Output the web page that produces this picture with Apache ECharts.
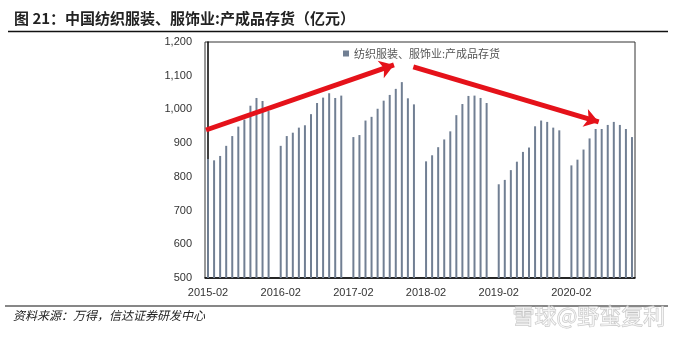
<!DOCTYPE html>
<html>
<head>
<meta charset="utf-8">
<script src="https://cdn.jsdelivr.net/npm/echarts@6/dist/echarts.min.js"></script>
<style>
html,body{margin:0;padding:0;background:#fff;}
#c{width:676px;height:342px;}
</style>
</head>
<body>
<div id="c"></div>
<script>
// Data (亿元), monthly from 2015-02 to 2020-12; January not reported (null)
var startYear = 2015, startMonth = 2, monthCount = 71;
var values2015 = [853, 849, 862, 892, 921, 949, 970, 1011, 1034, 1025, 995];
var values2016 = [null, 892, 921, 931, 946, 953, 986, 1019, 1035, 1048, 1034, 1041];
var values2017 = [null, 918, 924, 967, 978, 1002, 1026, 1043, 1061, 1081, 1033, 1015];
var values2018 = [null, 846, 864, 888, 911, 935, 983, 1016, 1040, 1041, 1034, 1019];
var values2019 = [null, 778, 791, 820, 845, 874, 887, 950, 967, 963, 946, 938];
var values2020 = [null, 834, 851, 881, 914, 942, 942, 954, 963, 954, 942, 918];
var seriesName = '纺织服装、服饰业:产成品存货';
var yTicks = [500, 600, 700, 800, 900, 1000, 1100, 1200];
// Trend arrows (annotation), in [category position, value]
var arrowUp = [[-0.33, 939], [30.7, 1132]];
var arrowDown = [[33.9, 1126], [64.5, 963]];

var categories = [];
for (var i = 0; i < monthCount; i++) {
  var m = startMonth - 1 + i;
  var y = startYear + Math.floor(m / 12);
  var mm = (m % 12) + 1;
  categories.push(y + '-' + (mm < 10 ? '0' + mm : '' + mm));
}
var values = [].concat(values2015, values2016, values2017, values2018, values2019, values2020);

var chart = echarts.init(document.getElementById('c'), null, {renderer: 'canvas'});
var labelFont = 'Liberation Sans, Arial, sans-serif';
var cjkFont = '"Noto Sans CJK SC", sans-serif';

chart.setOption({
  animation: false,
  backgroundColor: '#ffffff',
  grid: {left: 205, right: 41, top: 42, bottom: 64, show: true, borderColor: '#333', borderWidth: 1, containLabel: false},
  legend: {
    data: [seriesName], left: 338, top: 43, icon: 'rect', itemWidth: 6, itemHeight: 6, itemGap: 4,
    textStyle: {fontFamily: cjkFont, fontSize: 11, color: '#555'}
  },
  xAxis: [{
    type: 'category', data: categories, boundaryGap: true,
    axisLine: {show: true, lineStyle: {color: '#000', width: 1.5}},
    axisTick: {show: false},
    axisLabel: {interval: function (i) { return i % 12 === 0; }, color: '#333', fontFamily: labelFont, fontSize: 11, margin: 9},
    splitLine: {show: false}
  }, {
    type: 'value', min: -0.5, max: monthCount - 0.5, show: false
  }],
  yAxis: {
    type: 'value', min: yTicks[0], max: yTicks[yTicks.length - 1], interval: 100,
    axisLine: {show: true, lineStyle: {color: '#000', width: 1.5}},
    axisTick: {show: false},
    splitLine: {show: false},
    axisLabel: {color: '#333', fontFamily: labelFont, fontSize: 11, margin: 13,
      formatter: function (v) { return v.toLocaleString('en-US'); }}
  },
  series: [{
    name: seriesName, type: 'bar', data: values, barWidth: 2,
    itemStyle: {color: '#717f93'}
  }, {
    name: 'arrows', type: 'line', xAxisIndex: 1, data: [], silent: true,
    markLine: {
      silent: true, symbol: ['none', 'arrow'], symbolSize: [14, 14],
      label: {show: false},
      lineStyle: {color: '#e5121a', width: 5, type: 'solid'},
      emphasis: {disabled: true},
      data: [
        [{coord: arrowUp[0]}, {coord: arrowUp[1]}],
        [{coord: arrowDown[0]}, {coord: arrowDown[1]}]
      ]
    }
  }],
  graphic: [
    {type: 'text', left: 14, top: 11, style: {text: '图 21：中国纺织服装、服饰业:产成品存货（亿元）', font: 'bold 15px "Noto Sans CJK SC", sans-serif', fill: '#222'}},
    {type: 'line', shape: {x1: 8, y1: 31.5, x2: 668, y2: 31.5}, style: {stroke: '#111', lineWidth: 1.5}},
    {type: 'line', shape: {x1: 5, y1: 306, x2: 668, y2: 306}, style: {stroke: '#111', lineWidth: 1.2}},
    {type: 'text', left: 13, top: 309, style: {text: '资料来源：万得，信达证券研发中心', font: 'italic 12px "Noto Sans CJK SC", sans-serif', fill: '#222'}},
    {type: 'text', left: 512, top: 304, style: {text: '雪球@野蛮复利', font: '22px "Noto Sans CJK SC", sans-serif', fill: 'rgba(255,255,255,0.6)', stroke: 'rgba(170,170,170,0.7)', lineWidth: 1}}
  ]
});
</script>
</body>
</html>
